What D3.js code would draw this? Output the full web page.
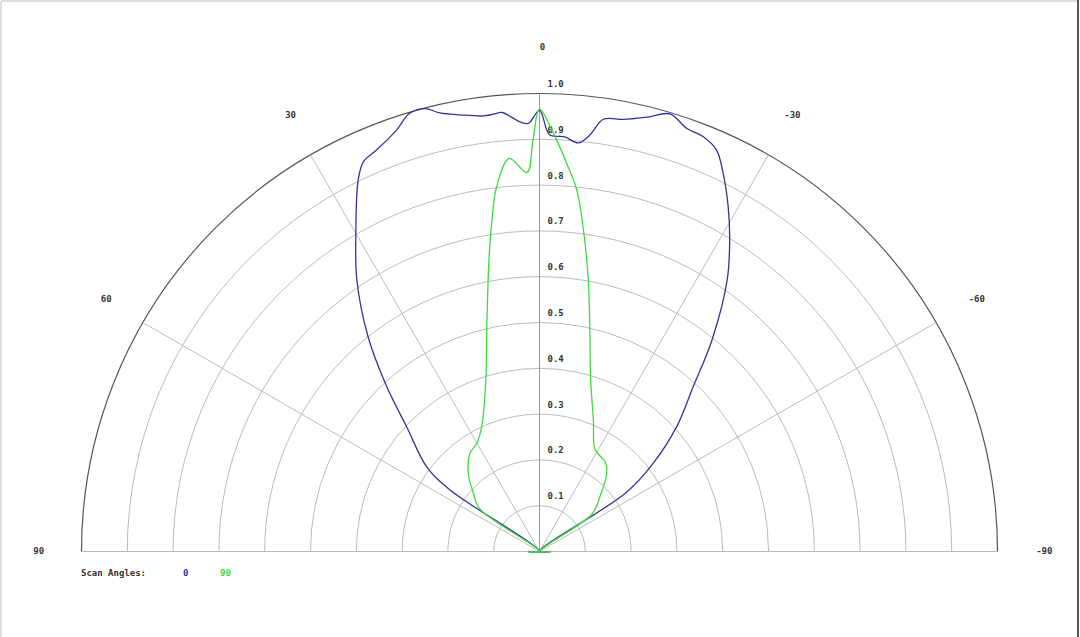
<!DOCTYPE html>
<html>
<head>
<meta charset="utf-8">
<script src="https://cdn.jsdelivr.net/npm/d3@7"></script>
<style>
  body { margin: 0; background: #fff; }
  text { font-family: "DejaVu Sans Mono", monospace; font-size: 9px; font-weight: bold; fill: #333; }
</style>
</head>
<body>
<div class="map"></div>
<script>
// Scan angle 0 (blue) - angle in degrees (positive = left side), relative intensity
const blueAngles = [-90, -60, -55.8, -52.2, -47.7, -43.0, -39.2, -34.6, -31.4, -28.7, -25.9, -23.8, -21.5,
  -19.2, -16.6, -13.9, -11.0, -8.4, -6.9, -5.4, -3.5, -1.4, 0, 1.5, 2.6, 4.9, 6.0, 7.4, 10.3, 12.8,
  14.5, 16.5, 18.7, 22.1, 24.3, 26.0, 30.0, 33.9, 38.6, 42.8, 46.8, 53.1, 55.5, 60, 90];
const blueValues = [0.025, 0, 0.229, 0.314, 0.405, 0.492, 0.596, 0.722, 0.797, 0.858, 0.918, 0.958, 0.974,
  0.978, 0.997, 0.977, 0.961, 0.954, 0.916, 0.896, 0.907, 0.910, 0.963, 0.935, 0.939, 0.962, 0.960, 0.959, 0.969, 0.982,
  0.999, 0.998, 0.972, 0.946, 0.934, 0.903, 0.802, 0.715, 0.600, 0.491, 0.398, 0.308, 0.237, 0, 0.025];

// Scan angle 90 (green)
const greenAngles = [-90, -60, -54.5, -47.8, -40.7, -36.1, -28.7, -22.3, -16.6, -12.8, -10.2, -7.8, -5.9,
  -4.0, -1.9, 0, 0.9, 1.9, 4.4, 6.7, 8.3, 9.7, 10.9, 13.4, 17.4, 24.9, 30.1, 35.3, 42.3, 48.7, 54.5, 60, 90];
const greenValues = [0.025, 0, 0.141, 0.178, 0.225, 0.243, 0.253, 0.310, 0.391, 0.496, 0.602, 0.708, 0.793,
  0.850, 0.914, 0.966, 0.899, 0.828, 0.861, 0.802, 0.724, 0.653, 0.595, 0.497, 0.392, 0.300, 0.273, 0.263, 0.231, 0.192, 0.161, 0, 0.025];

const ringTicks = [0.1, 0.2, 0.3, 0.4, 0.5, 0.6, 0.7, 0.8, 0.9, 1.0];
const angleTicks = [90, 60, 30, 0, -30, -60, -90];

const series = [
  { name: "0", angles: blueAngles, values: blueValues, color: "#33339a" },
  { name: "90", angles: greenAngles, values: greenValues, color: "#3ddc3d" },
];

const width = 1080, height = 637;
const cx = 539.5, cy = 551.5;

const svg = d3
  .select(".map")
  .append("svg")
  .attr("width", width)
  .attr("height", height);

// frame
svg.append("line").attr("x1", 1).attr("x2", 1079).attr("y1", 1).attr("y2", 1).attr("stroke", "#bbb");
svg.append("line").attr("x1", 1).attr("x2", 1).attr("y1", 1).attr("y2", 637).attr("stroke", "#bbb");
svg.append("line").attr("x1", 1078).attr("x2", 1078).attr("y1", 0).attr("y2", 637).attr("stroke", "#555").attr("stroke-width", 2);

const g = svg.append("g").attr("transform", `translate(${cx},${cy})`);

const rScale = d3.scaleLinear().domain([0, 1]).range([0, 458]);
const toRad = (deg) => (-deg * Math.PI) / 180;

// rings
ringTicks.forEach((t) => {
  const p = d3.path();
  p.arc(0, 0, rScale(t), Math.PI, 2 * Math.PI);
  g.append("path")
    .attr("d", p.toString())
    .attr("fill", "none")
    .attr("stroke", t === 1 ? "#555" : "#bbb")
    .attr("stroke-width", t === 1 ? 1.2 : 1);
});

// spokes
angleTicks.forEach((a) => {
  const th = toRad(a);
  g.append("line")
    .attr("x1", 0)
    .attr("y1", 0)
    .attr("x2", rScale(1) * Math.sin(th))
    .attr("y2", -rScale(1) * Math.cos(th))
    .attr("stroke", a === 0 ? "#999" : "#bbb");
});

// ring labels
g.selectAll(".rlab")
  .data(ringTicks)
  .join("text")
  .attr("x", 8)
  .attr("y", (d) => -rScale(d) - 9)
  .attr("dominant-baseline", "middle")
  .text((d) => d.toFixed(1));

// angle labels
g.selectAll(".alab")
  .data(angleTicks)
  .join("text")
  .attr("x", (d) => rScale(1.1) * Math.sin(toRad(d)) + (d >= 0 ? 3 : 1))
  .attr("y", (d) => -rScale(1.1) * Math.cos(toRad(d)))
  .attr("text-anchor", "middle")
  .attr("dominant-baseline", "middle")
  .text((d) => d);

// curves
const line = d3
  .lineRadial()
  .angle((d) => toRad(d[0]))
  .radius((d) => rScale(d[1]))
  .curve(d3.curveCatmullRom.alpha(0.5));

series.forEach((s) => {
  const pts = s.angles.map((a, i) => [a, s.values[i]]);
  g.append("path")
    .attr("d", line(pts))
    .attr("fill", "none")
    .attr("stroke", s.color)
    .attr("stroke-width", 1.3);
});

// legend
svg.append("text").attr("x", 81).attr("y", 573).attr("dominant-baseline", "middle").text("Scan Angles:");
const legendX = [183, 220];
series.forEach((s, i) => {
  svg.append("text")
    .attr("x", legendX[i])
    .attr("y", 573)
    .attr("dominant-baseline", "middle")
    .style("fill", s.color)
    .text(s.name);
});
</script>
</body>
</html>
